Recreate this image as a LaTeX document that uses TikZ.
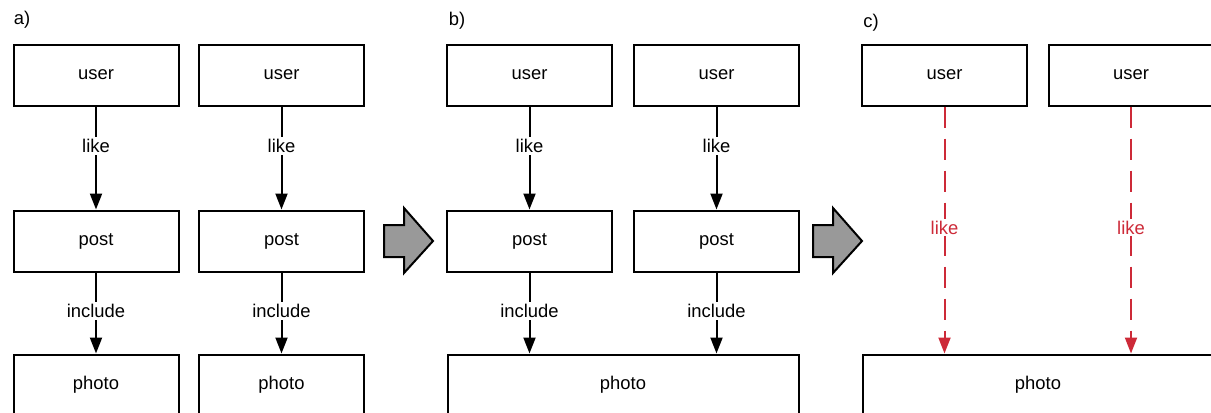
\documentclass[tikz,border=0pt]{standalone}
\usepackage{fontspec}
\setmainfont{Liberation Sans}
\usetikzlibrary{arrows.meta}
\definecolor{likered}{RGB}{205,42,56}
\definecolor{bigarrow}{RGB}{153,153,153}
\begin{document}
\begin{tikzpicture}[x=0.75pt,y=-0.75pt,
  every node/.style={font=\fontsize{13.8}{16}\selectfont},
  box/.style={draw=black,line width=1.5pt,minimum width=165*0.75pt,minimum height=61*0.75pt,inner sep=0pt,fill=white},
  widebox/.style={box,minimum width=351*0.75pt},
  conn/.style={draw=black,line width=1.5pt,-{Triangle[width=9pt,length=12pt]}},
  redconn/.style={draw=likered,line width=1.5pt,dash pattern=on 15.75pt off 8.25pt,-{Triangle[width=9pt,length=12pt]}},
  lbl/.style={fill=white,inner sep=1.5pt,text=black},
  redlbl/.style={fill=white,inner sep=1.5pt,text=likered},
  bigarr/.style={fill=bigarrow,draw=black,line width=1.5pt,line join=miter}]
\useasboundingbox (0,0) rectangle (1211,412);
\clip (0,0) rectangle (1211,412);
% labels
\node (la) at (22,20) {a)};
\node (lb) at (457,21) {b)};
\node (lc) at (871,23) {c)};
% panel a
\node[box] (au1) at (96,75) {user};
\node[box] (au2) at (281.5,75) {user};
\node[box] (ap1) at (96,241) {post};
\node[box] (ap2) at (281.5,241) {post};
\node[box] (ah1) at (96,385) {photo};
\node[box] (ah2) at (281.5,385) {photo};
\draw[conn] (au1) -- node[lbl,pos=0.385] {like} (ap1);
\draw[conn] (au2) -- node[lbl,pos=0.385] {like} (ap2);
\draw[conn] (ap1) -- node[lbl,pos=0.475] {include} (ah1);
\draw[conn] (ap2) -- node[lbl,pos=0.475] {include} (ah2);
% big arrow 1
\draw[bigarr] (384,225) -- (404,225) -- (404,208) -- (433,241) -- (404,273) -- (404,257) -- (384,257) -- cycle;
% panel b
\node[box] (bu1) at (529.5,75) {user};
\node[box] (bu2) at (716.5,75) {user};
\node[box] (bp1) at (529.5,241) {post};
\node[box] (bp2) at (716.5,241) {post};
\node[widebox] (bh) at (623,385) {photo};
\draw[conn] (bu1) -- node[lbl,pos=0.385] {like} (bp1);
\draw[conn] (bu2) -- node[lbl,pos=0.385] {like} (bp2);
\draw[conn] (bp1) -- node[lbl,pos=0.475] {include} (bp1 |- bh.north);
\draw[conn] (bp2) -- node[lbl,pos=0.475] {include} (bp2 |- bh.north);
% big arrow 2
\draw[bigarr] (813,225) -- (833,225) -- (833,208) -- (862,241) -- (833,273) -- (833,257) -- (813,257) -- cycle;
% panel c
\node[box] (cu1) at (944.5,75) {user};
\node[box] (cu2) at (1131,75) {user};
\node[widebox] (ch) at (1038,385) {photo};
\draw[redconn] (cu1) -- node[redlbl,pos=0.49] {like} (cu1 |- ch.north);
\draw[redconn] (cu2) -- node[redlbl,pos=0.49] {like} (cu2 |- ch.north);
\end{tikzpicture}
\end{document}
